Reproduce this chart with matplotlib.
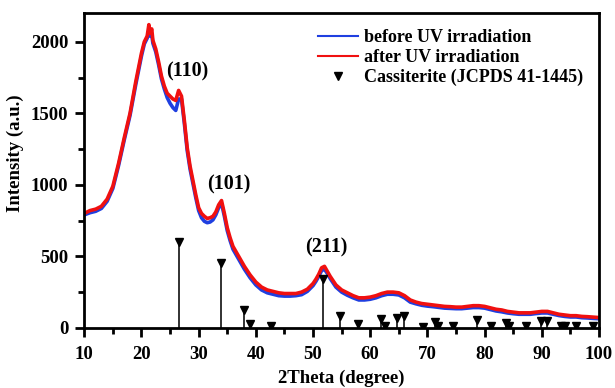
import matplotlib
matplotlib.use('Agg')
import matplotlib.pyplot as plt
from matplotlib.ticker import MultipleLocator
import numpy as np

plt.rcParams['font.family'] = ['Liberation Serif', 'DejaVu Serif']
plt.rcParams['font.weight'] = 'bold'

two_theta = [10, 11, 12, 13, 14, 15, 16, 17, 18, 19, 20, 20.5, 21, 21.3, 21.5, 21.8, 22, 22.5,
             23, 23.5, 24, 24.5, 25, 25.5, 26, 26.5, 27, 27.5, 28, 28.5, 29, 29.5, 30, 30.5,
             31, 31.5, 32, 32.5, 33, 33.5, 34, 34.5, 35, 35.5, 36, 37, 38, 39, 40, 41, 42,
             43, 44, 45, 46, 47, 48, 49, 50, 50.5, 51, 51.5, 52, 52.5, 53, 54, 55, 56, 57,
             58, 59, 60, 61, 62, 63, 64, 65, 66, 67, 68, 69, 70, 71, 72, 73, 74, 75, 76,
             77, 78, 79, 80, 81, 82, 83, 84, 85, 86, 87, 88, 89, 90, 91, 92, 93, 94, 95,
             96, 97, 98, 99, 100]
after_uv = [800, 820, 830, 850, 900, 990, 1150, 1330, 1500, 1720, 1920, 2000, 2040, 2120, 2060,
            2090, 2010, 1950, 1860, 1760, 1690, 1640, 1620, 1600, 1590, 1660, 1620, 1450,
            1260, 1130, 1030, 930, 840, 800, 780, 765, 770, 780, 810, 860, 890, 800, 700,
            630, 570, 500, 430, 370, 320, 285, 265, 255, 245, 240, 240, 240, 250, 270, 310,
            340, 375, 420, 430, 395, 360, 300, 265, 245, 225, 210, 210, 215, 225, 240, 250,
            250, 245, 225, 195, 180, 170, 165, 160, 155, 150, 148, 145, 145, 150, 155, 155,
            150, 140, 130, 125, 115, 110, 105, 105, 105, 110, 115, 115, 105, 95, 90, 85, 85,
            80, 78, 75, 72]
before_uv = [790, 805, 815, 835, 885, 975, 1135, 1315, 1485, 1700, 1900, 1985, 2025, 2080, 2040,
             2050, 1990, 1930, 1840, 1740, 1670, 1610, 1570, 1540, 1520, 1600, 1600, 1430,
             1240, 1110, 1010, 910, 820, 770, 745, 735, 740, 755, 790, 840, 870, 780, 680,
             610, 550, 480, 410, 350, 300, 265, 245, 235, 225, 222, 222, 225, 232, 255, 295,
             325, 360, 400, 410, 380, 345, 285, 250, 228, 210, 195, 195, 200, 210, 225, 235,
             235, 230, 210, 180, 168, 158, 152, 148, 143, 138, 136, 134, 134, 138, 142, 142,
             138, 128, 118, 112, 104, 99, 95, 95, 95, 100, 104, 104, 95, 86, 80, 76, 76,
             71, 69, 66, 64]

# Cassiterite reference lines (JCPDS 41-1445), scaled
ref_pos = [26.6, 33.9, 37.9, 38.9, 42.6, 51.8, 54.8, 57.8, 61.9, 62.6, 64.7, 65.9, 69.2,
           71.3, 71.8, 74.5, 78.7, 81.2, 83.7, 84.3, 87.2, 89.8, 90.9, 93.3, 94.0, 96.0, 99.0]
ref_int = [600, 455, 125, 25, 10, 340, 80, 30, 65, 10, 70, 80, 8,
           40, 10, 10, 55, 15, 35, 10, 15, 45, 50, 15, 10, 15, 10]

peak_labels = ['(110)', '(101)', '(211)']
peak_label_pos = [(28.0, 1790), (35.2, 1000), (52.3, 560)]

fig = plt.figure(figsize=(6.15, 3.88), dpi=100)
ax = fig.add_axes([0.137, 0.155, 0.837, 0.811])

ax.plot(two_theta, before_uv, color='#1f3fe0', lw=2.6, label='before UV irradiation')
ax.plot(two_theta, after_uv, color='#f01010', lw=2.6, label='after UV irradiation')

ax.vlines(ref_pos, 0, ref_int, color='#222222', lw=1.3)
ax.plot(ref_pos, ref_int, 'v', color='black', ms=6, ls='none',
        label='Cassiterite (JCPDS 41-1445)')

for txt, (px, py) in zip(peak_labels, peak_label_pos):
    ax.text(px, py, txt, fontsize=14.5, fontweight='bold', ha='center', va='center')

ax.set_xlim(10, 100)
ax.set_ylim(0, 2200)
ax.xaxis.set_major_locator(MultipleLocator(10))
ax.xaxis.set_minor_locator(MultipleLocator(5))
ax.yaxis.set_major_locator(MultipleLocator(500))
ax.yaxis.set_minor_locator(MultipleLocator(250))
ax.tick_params(which='both', direction='out', width=2, labelsize=13.5)
ax.tick_params(which='major', length=6.5)
ax.tick_params(which='minor', length=4.5)
ax.tick_params(axis='x', which='major', pad=6.5)
ax.tick_params(axis='y', which='major', pad=5)
for s in ax.spines.values():
    s.set_linewidth(2)

ax.set_xlabel('2Theta (degree)', fontsize=13.5, fontweight='bold', labelpad=5)
ax.set_ylabel('Intensity (a.u.)', fontsize=13.5, fontweight='bold')
ax.yaxis.set_label_coords(-0.118, 0.556)

leg = ax.legend(loc='upper right', frameon=False, handlelength=2.2,
                handletextpad=0.3, labelspacing=0.15, borderaxespad=0.5,
                prop={'weight': 'bold', 'size': 13})
for ln in leg.get_lines()[:2]:
    ln.set_linewidth(1.5)

fig.savefig('out.png', dpi=100)
